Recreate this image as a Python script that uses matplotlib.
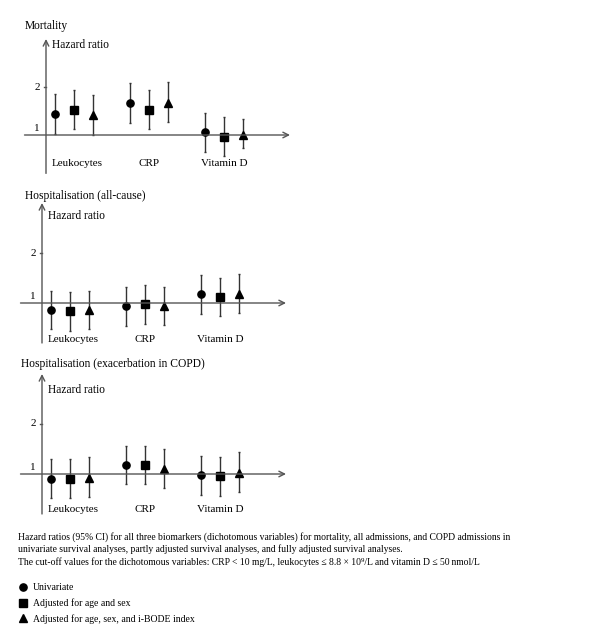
import matplotlib
matplotlib.use("Agg")
import matplotlib.pyplot as plt
from matplotlib.lines import Line2D

plt.rcParams['font.family'] = ['Liberation Serif', 'DejaVu Serif']

# datos
biomarkers = ['Leukocytes', 'CRP', 'Vitamin D']
panel_titles = ['Mortality', 'Hospitalisation (all-cause)',
                'Hospitalisation (exacerbation in COPD)']
model_labels = ['Univariate', 'Adjusted for age and sex',
                'Adjusted for age, sex, and i-BODE index']

# Mortality
mort_uni_hr = [1.44, 1.67, 1.06]
mort_uni_lo = [1.03, 1.26, 0.65]
mort_uni_hi = [1.85, 2.08, 1.46]
mort_sex_hr = [1.53, 1.53, 0.96]
mort_sex_lo = [1.12, 1.12, 0.56]
mort_sex_hi = [1.93, 1.93, 1.37]
mort_full_hr = [1.41, 1.67, 1.01]
mort_full_lo = [1.00, 1.28, 0.72]
mort_full_hi = [1.83, 2.10, 1.33]

# Hospitalisation (all-cause)
hosp_uni_hr = [0.87, 0.95, 1.18]
hosp_uni_lo = [0.48, 0.55, 0.79]
hosp_uni_hi = [1.25, 1.33, 1.56]
hosp_sex_hr = [0.85, 0.98, 1.13]
hosp_sex_lo = [0.45, 0.59, 0.75]
hosp_sex_hi = [1.23, 1.37, 1.51]
hosp_full_hr = [0.87, 0.95, 1.19]
hosp_full_lo = [0.48, 0.56, 0.80]
hosp_full_hi = [1.25, 1.33, 1.58]

# Hospitalisation (COPD)
copd_uni_hr = [0.91, 1.18, 0.98]
copd_uni_lo = [0.52, 0.80, 0.59]
copd_uni_hi = [1.31, 1.57, 1.37]
copd_sex_hr = [0.91, 1.18, 0.97]
copd_sex_lo = [0.52, 0.80, 0.57]
copd_sex_hi = [1.31, 1.57, 1.35]
copd_full_hr = [0.93, 1.11, 1.03]
copd_full_lo = [0.55, 0.73, 0.65]
copd_full_hi = [1.34, 1.51, 1.44]

panels = [
    [(mort_uni_hr, mort_uni_lo, mort_uni_hi),
     (mort_sex_hr, mort_sex_lo, mort_sex_hi),
     (mort_full_hr, mort_full_lo, mort_full_hi)],
    [(hosp_uni_hr, hosp_uni_lo, hosp_uni_hi),
     (hosp_sex_hr, hosp_sex_lo, hosp_sex_hi),
     (hosp_full_hr, hosp_full_lo, hosp_full_hi)],
    [(copd_uni_hr, copd_uni_lo, copd_uni_hi),
     (copd_sex_hr, copd_sex_lo, copd_sex_hi),
     (copd_full_hr, copd_full_lo, copd_full_hi)],
]

markers = ['o', 's', '^']
offsets = [-0.25, 0.0, 0.25]

W, H = 600, 644
fig = plt.figure(figsize=(W / 100, H / 100), dpi=100)

# geometria en pixeles: (eje y=1, px por unidad, x del grupo 0, banda sup, banda inf, y titulo, x titulo, y "Hazard ratio")
layout = [
    (135, 48, 74, 15, 180, 26, 25, 2.88),
    (303, 50, 70, 185, 350, 196, 25, 2.74),
    (474, 50, 70, 355, 520, 364, 21, 2.68),
]
grp = 75.0
axis_col = '#555555'

for k, data in enumerate(panels):
    y1, unit, g0, top, bot, ty, tx, hz = layout[k]
    ax = fig.add_axes([0, (H - bot) / H, 1, (bot - top) / H])
    ax.set_xlim((0 - g0) / grp, (W - g0) / grp)
    ax.set_ylim(1 - (bot - y1) / unit, 1 + (y1 - top) / unit)
    ax.axis('off')

    yx = -28 / grp  # eje vertical 28 px a la izquierda del grupo 0
    # eje vertical con flecha
    ax.annotate('', xy=(yx, 3.0), xytext=(yx, 0.2),
                arrowprops=dict(arrowstyle='->', color=axis_col, lw=1, shrinkA=0, shrinkB=0))
    # eje horizontal en HR = 1
    ax.annotate('', xy=(2.88, 1), xytext=(-0.66, 1),
                arrowprops=dict(arrowstyle='->', color=axis_col, lw=1, shrinkA=0, shrinkB=0))
    ax.plot([yx - 0.03, yx], [2, 2], color=axis_col, lw=1)
    ax.text(yx - 0.08, 2, '2', ha='right', va='center', fontsize=8)
    ax.annotate('1', xy=(yx - 0.08, 1), xytext=(0, 5), textcoords='offset points',
                ha='right', va='center', fontsize=8)
    ax.text(yx + 0.08, hz, 'Hazard ratio', ha='left', va='center', fontsize=8.3)

    for m, (hr, lo, hi) in enumerate(data):
        xs = [i + offsets[m] for i in range(len(biomarkers))]
        err = [[h - l for h, l in zip(hr, lo)], [u - h for h, u in zip(hr, hi)]]
        ax.errorbar(xs, hr, yerr=err, fmt=markers[m], color='black', ecolor='#333333',
                    elinewidth=1, capsize=1, markersize=5.2 if m < 2 else 5.8)

    lab_y = 1 - (36 if k else 29) / unit
    for i, name in enumerate(biomarkers):
        ax.text(i + 0.04 * (i == 0), lab_y, name, ha='center', va='center', fontsize=8)

    fig.text(tx / W, 1 - ty / H, panel_titles[k], ha='left', va='center', fontsize=8.3)

caption = [
    'Hazard ratios (95% CI) for all three biomarkers (dichotomous variables) for mortality, all admissions, and COPD admissions in',
    'univariate survival analyses, partly adjusted survival analyses, and fully adjusted survival analyses.',
    'The cut-off values for the dichotomous variables: CRP < 10 mg/L, leukocytes \u2264 8.8 \u00d7 10\u2079/L and vitamin D \u2264 50\u2009nmol/L',
]
for j, line in enumerate(caption):
    fig.text(18 / W, 1 - (537 + 12.5 * j) / H, line, ha='left', va='center', fontsize=6.9)

handles = [Line2D([], [], marker=mk, color='black', ls='none', markersize=5.2) for mk in markers]
fig.legend(handles, model_labels, loc='upper left', bbox_to_anchor=(20 / W, 1 - 583.5 / H),
           frameon=False, fontsize=7.0, handlelength=0.6, handletextpad=0.7,
           labelspacing=0.6, borderaxespad=0, borderpad=0)

fig.savefig('out.png', dpi=100)
